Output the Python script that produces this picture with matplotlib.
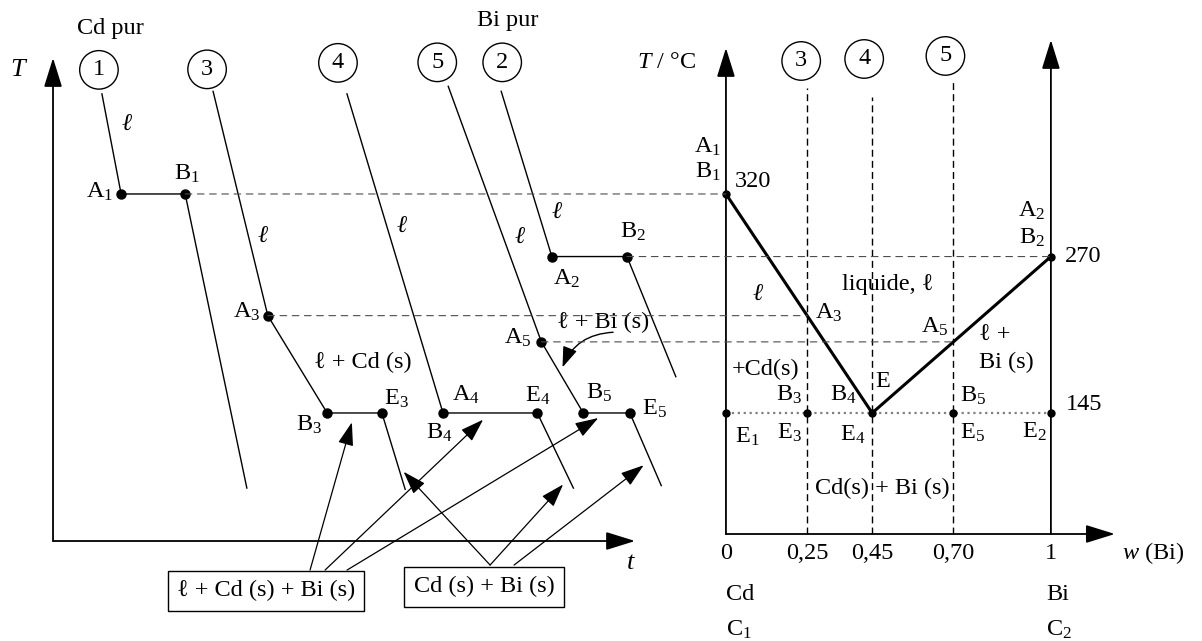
import matplotlib.pyplot as plt
import numpy as np
from matplotlib.patches import ConnectionPatch

plt.rcParams['font.family'] = ['Liberation Serif', 'DejaVu Serif']
plt.rcParams['mathtext.fontset'] = 'custom'
plt.rcParams['mathtext.rm'] = 'Liberation Serif'
plt.rcParams['mathtext.it'] = 'Liberation Serif:italic'
plt.rcParams['font.size'] = 17.5

# Diagramme binaire Cd - Bi
T_Cd = 320          # fusion Cd pur
T_Bi = 270          # fusion Bi pur
T_E = 145           # eutectique
w_E = 0.45
w_liq = [0, w_E, 1]
T_liq = [T_Cd, T_E, T_Bi]
w_mel = [0.25, 0.45, 0.70]          # melanges 3, 4, 5
num_mel = ['3', '4', '5']
w_ticks = [0, 0.25, 0.45, 0.70, 1]
w_tick_labels = ['0', '0,25', '0,45', '0,70', '1']
w_eut = [0, 0.25, 0.70, 1]          # E1, E3, E5, E2

T_A = np.interp(w_mel, w_liq, T_liq)   # A3, (E), A5

# Courbes de refroidissement (t arbitraire, T en degC)
t_c1 = [0.84, 1.17, 2.27, 3.33]
T_c1 = [400, T_Cd, T_Cd, 85]
t_c3 = [2.75, 3.69, 4.71, 5.65, 6.05]
T_c3 = [402, T_A[0], T_E, T_E, 84]
t_c4 = [5.05, 6.70, 8.32, 8.94]
T_c4 = [400, T_E, T_E, 85]
t_c5 = [6.79, 8.39, 9.11, 9.91, 10.45]
T_c5 = [406, T_A[2], T_E, T_E, 87]
t_c2 = [7.70, 8.57, 9.86, 10.70]
T_c2 = [402, T_Bi, T_Bi, 174]

fig = plt.figure(figsize=(12.02, 6.41), dpi=100)
T_lim = (-37.2, 475.0)
axc = fig.add_axes([0, 0, 1, 1], label='courbes')
axc.set_xlim(-0.911, 19.74)
axc.set_ylim(*T_lim)
axd = fig.add_axes([0, 0, 1, 1], label='diagramme')
axd.set_xlim(-2.234, 1.465)
axd.set_ylim(*T_lim)
for ax in (axc, axd):
    ax.axis('off')
    ax.patch.set_alpha(0)


def fleche(ax, p0, p1, lw=1.3, hl=0.9, hw=0.28, ms=20, sb=0):
    ax.annotate('', xy=p1, xytext=p0,
                arrowprops=dict(arrowstyle=f'-|>,head_length={hl},head_width={hw}',
                                color='k', lw=lw, mutation_scale=ms,
                                shrinkA=0, shrinkB=sb))


def lab(ax, s, xy, dx, dy, ha='center', **kw):
    ax.annotate(s, xy, xytext=(dx, dy), textcoords='offset pixels',
                ha=ha, va='center', **kw)


def rond(ax, s, xy, dx, dy):
    ax.annotate(s, xy, xytext=(dx, dy), textcoords='offset pixels',
                ha='center', va='center',
                bbox=dict(boxstyle='circle,pad=0.36', fc='white', ec='k', lw=1))


ELL = dict(style='italic', ha='center', va='center')

# ---- axes des courbes de refroidissement
T0c = 42.7
fleche(axc, (0, T0c), (0, 428.7))
fleche(axc, (0, T0c), (10, T0c))
axc.text(-0.601, 419.1, 'T', style='italic', ha='center', va='center', fontsize=19)
axc.text(9.914, 25.1, 't', style='italic', ha='center', va='center', fontsize=19)

courbes = [(t_c1, T_c1), (t_c3, T_c3), (t_c4, T_c4), (t_c5, T_c5), (t_c2, T_c2)]
for t, T in courbes:
    axc.plot(t, T, color='k', lw=1.0)
    axc.plot(t[1:-1], T[1:-1], 'o', color='k', ms=6.5)

# numeros des courbes
rond(axc, '1', (t_c1[0], T_c1[0]), -3, 24)
rond(axc, '3', (t_c3[0], T_c3[0]), -6, 22)
rond(axc, '4', (t_c4[0], T_c4[0]), -9, 31)
rond(axc, '5', (t_c5[0], T_c5[0]), -11, 24)
rond(axc, '2', (t_c2[0], T_c2[0]), 1, 29)
lab(axc, 'Cd pur', (t_c1[0], T_c1[0]), 8, 65)
lab(axc, 'Bi pur', (t_c2[0], T_c2[0]), 6, 71)

# points caracteristiques
lab(axc, 'A$_1$', (t_c1[1], T_c1[1]), -8, 2, 'right')
lab(axc, 'B$_1$', (t_c1[2], T_c1[2]), 2, 20)
lab(axc, 'A$_3$', (t_c3[1], T_c3[1]), -7, 4, 'right')
lab(axc, 'B$_3$', (t_c3[2], T_c3[2]), -5, -12, 'right')
lab(axc, 'E$_3$', (t_c3[3], T_c3[3]), 2, 14, 'left')
lab(axc, 'A$_4$', (t_c4[1], T_c4[1]), 9, 18, 'left')
lab(axc, 'B$_4$', (t_c4[1], T_c4[1]), -4, -20)
lab(axc, 'E$_4$', (t_c4[2], T_c4[2]), 0, 17)
lab(axc, 'A$_5$', (t_c5[1], T_c5[1]), -10, 4, 'right')
lab(axc, 'B$_5$', (t_c5[2], T_c5[2]), 16, 20)
lab(axc, 'E$_5$', (t_c5[3], T_c5[3]), 12, 4, 'left')
lab(axc, 'A$_2$', (t_c2[1], T_c2[1]), 15, -22)
lab(axc, 'B$_2$', (t_c2[2], T_c2[2]), 6, 25)

for t, T in [(1.27, 375.1), (3.608, 285.6), (5.997, 293.6), (8.66, 304.8), (8.024, 284.8)]:
    axc.text(t, T, 'ℓ', **ELL)
axc.text(5.326, 185.0, 'ℓ + Cd (s)', ha='center', va='center')
axc.text(9.45, 217.0, 'ℓ + Bi (s)', ha='center', va='center')
f5 = 0.45
cible5 = (t_c5[1] + f5 * (t_c5[2] - t_c5[1]), T_c5[1] + f5 * (T_c5[2] - T_c5[1]))
axc.annotate('', xy=cible5, xytext=(9.622, 209.5),
             arrowprops=dict(arrowstyle='-|>,head_length=0.7,head_width=0.25',
                             connectionstyle='arc3,rad=0.35', color='k', lw=1,
                             mutation_scale=18, shrinkA=0, shrinkB=5))

# encadres et fleches
axc.text(3.66, 2.8, 'ℓ + Cd (s) + Bi (s)', ha='center', va='center',
         bbox=dict(boxstyle='square,pad=0.38', fc='white', ec='k', lw=1))
axc.text(7.405, 6.0, 'Cd (s) + Bi (s)', ha='center', va='center',
         bbox=dict(boxstyle='square,pad=0.38', fc='white', ec='k', lw=1))

plateaux = [(t_c3[2], t_c3[3]), (t_c4[1], t_c4[2]), (t_c5[2], t_c5[3])]
queues1 = [4.416, 4.674, 5.052]
for tq, (ta, tb) in zip(queues1, plateaux):
    fleche(axc, (tq, 19.5), ((ta + tb) / 2, T_E), lw=0.9, hl=0.9, hw=0.3, ms=16, sb=7)

branches = [(t_c3, T_c3, 0.69), (t_c4, T_c4, 0.87), (t_c5, T_c5, 0.65)]
queues2 = [7.509, 7.509, 7.921]
for tq, (t, T, f) in zip(queues2, branches):
    cible = (t[-2] + f * (t[-1] - t[-2]), T[-2] + f * (T[-1] - T[-2]))
    fleche(axc, (tq, 23.5), cible, lw=0.9, hl=0.9, hw=0.3, ms=16, sb=6)

# ---- diagramme binaire
T0d = 48.3
fleche(axd, (0, T0d), (0, 436.7))
fleche(axd, (1, T0d), (1, 443.1))
fleche(axd, (0, T0d), (1.197, T0d))
axd.text(-0.182, 424.7, '$T$ / °C', ha='center', va='center')

axd.plot(w_liq, T_liq, color='k', lw=2.2)
axd.plot([0, 1], [T_E, T_E], ls=':', color='0.5', lw=1.6)
axd.plot(w_liq, T_liq, 'o', color='k', ms=5)
axd.plot(w_eut, [T_E] * len(w_eut), 'o', color='k', ms=5)

T_haut = [404.7, 397.5, 409.5]
rond_dx = [-6, -8, -8]
rond_dy = [27, 38, 26]
for w, n, Th, dx, dy in zip(w_mel, num_mel, T_haut, rond_dx, rond_dy):
    axd.plot([w, w], [T0d, Th], ls=(0, (5, 3)), color='k', lw=1)
    rond(axd, n, (w, Th), dx, dy)

for w, s in zip(w_ticks, w_tick_labels):
    axd.text(w, 33.1, s, ha='center', va='center')
axd.text(1.314, 33.1, '$w$ (Bi)', ha='center', va='center')
lab(axd, 'Cd', (0, 0), 0, 0, 'left')
lab(axd, 'C$_1$', (0, -28.4), 0, 0, 'left')
lab(axd, 'Bi', (1, 0), -5, 0, 'left')
lab(axd, 'C$_2$', (1, -28.4), -5, 0, 'left')

lab(axd, 'A$_1$', (0, T_Cd), -5, 47, 'right')
lab(axd, 'B$_1$', (0, T_Cd), -5, 22, 'right')
lab(axd, '320', (0, T_Cd), 9, 12, 'left')
lab(axd, 'A$_2$', (1, T_Bi), -6, 46, 'right')
lab(axd, 'B$_2$', (1, T_Bi), -6, 19, 'right')
lab(axd, '270', (1, T_Bi), 14, 0, 'left')
lab(axd, '145', (1, T_E), 15, 8, 'left')

lab(axd, 'A$_3$', (w_mel[0], T_A[0]), 8, 3, 'left')
lab(axd, 'A$_5$', (w_mel[2], T_A[2]), -5, 15, 'right')
lab(axd, 'E', (w_E, T_E), 3, 31, 'left')
lab(axd, 'B$_3$', (w_mel[0], T_E), -5, 18, 'right')
lab(axd, 'B$_4$', (w_E, T_E), -16, 18, 'right')
lab(axd, 'B$_5$', (w_mel[2], T_E), 7, 17, 'left')
lab(axd, 'E$_1$', (0, T_E), 9, -24, 'left')
lab(axd, 'E$_3$', (w_mel[0], T_E), -5, -20, 'right')
lab(axd, 'E$_4$', (w_E, T_E), -7, -22, 'right')
lab(axd, 'E$_5$', (w_mel[2], T_E), 7, -20, 'left')
lab(axd, 'E$_2$', (1, T_E), -4, -19, 'right')

axd.text(0.098, 239.3, 'ℓ', **ELL)
axd.text(0.498, 247.3, 'liquide, ℓ', ha='center', va='center')
axd.text(0.78, 207.3, 'ℓ +', ha='left', va='center')
axd.text(0.78, 185.0, 'Bi (s)', ha='left', va='center')
axd.text(0.018, 179.4, '+Cd(s)', ha='left', va='center')
axd.text(0.48, 85.0, 'Cd(s) + Bi (s)', ha='center', va='center')


# ---- traits de rappel
def tirets(p_c, p_d):
    fig.add_artist(ConnectionPatch(xyA=p_c, coordsA=axc.transData,
                                   xyB=p_d, coordsB=axd.transData,
                                   ls=(0, (6, 5)), lw=0.8, color='0.3'))


tirets((t_c1[2], T_Cd), (0, T_Cd))
tirets((t_c2[2], T_Bi), (1, T_Bi))
tirets((t_c3[1], T_A[0]), (w_mel[0], T_A[0]))
tirets((t_c5[1], T_A[2]), (w_mel[2], T_A[2]))

fig.savefig('out.png', dpi=100)
